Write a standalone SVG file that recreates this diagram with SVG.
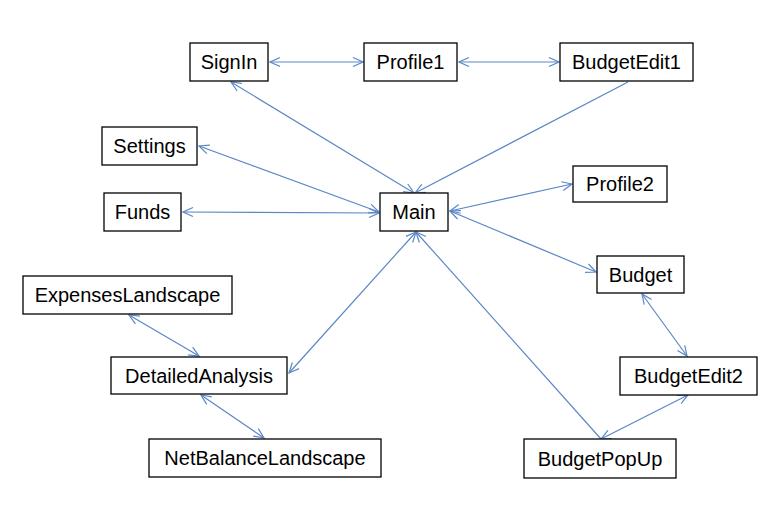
<svg xmlns="http://www.w3.org/2000/svg" width="784" height="520" viewBox="0 0 784 520">
<style>
.box{fill:#fff;stroke:#000;stroke-width:1.3}
.lbl{font-family:"Liberation Sans",Arial,sans-serif;font-size:20px;fill:#000;text-anchor:middle;dominant-baseline:central}
.c{stroke:#5b87c5;stroke-width:1.2;fill:none}
</style>
<defs>
<marker id="a" viewBox="0 0 12 12" refX="11" refY="6" markerWidth="12" markerHeight="12" markerUnits="userSpaceOnUse" orient="auto-start-reverse">
<path d="M1,1.5 L11,6 L1,10.5" fill="none" stroke="#5b87c5" stroke-width="1.2"/>
</marker>
</defs>
<rect width="784" height="520" fill="#fff"/>
<g id="connectors">
<line class="c" x1="270" y1="62" x2="363" y2="62" marker-start="url(#a)" marker-end="url(#a)"/>
<line class="c" x1="459" y1="62" x2="559" y2="62" marker-start="url(#a)" marker-end="url(#a)"/>
<line class="c" x1="231" y1="82" x2="414" y2="193" marker-start="url(#a)" marker-end="url(#a)"/>
<line class="c" x1="628" y1="82" x2="415" y2="193" marker-end="url(#a)"/>
<line class="c" x1="199" y1="146" x2="379" y2="212" marker-start="url(#a)" marker-end="url(#a)"/>
<line class="c" x1="183" y1="212" x2="379" y2="213" marker-start="url(#a)" marker-end="url(#a)"/>
<line class="c" x1="450" y1="211" x2="572" y2="184" marker-start="url(#a)" marker-end="url(#a)"/>
<line class="c" x1="450" y1="211" x2="596" y2="272" marker-start="url(#a)" marker-end="url(#a)"/>
<line class="c" x1="642" y1="294" x2="687" y2="356" marker-start="url(#a)" marker-end="url(#a)"/>
<line class="c" x1="289" y1="373" x2="416" y2="232" marker-start="url(#a)" marker-end="url(#a)"/>
<line class="c" x1="129" y1="315" x2="199" y2="356" marker-start="url(#a)" marker-end="url(#a)"/>
<line class="c" x1="201" y1="395" x2="264" y2="438" marker-start="url(#a)" marker-end="url(#a)"/>
<line class="c" x1="601" y1="439" x2="416" y2="232" marker-end="url(#a)"/>
<line class="c" x1="601" y1="439" x2="688" y2="395" marker-start="url(#a)" marker-end="url(#a)"/>
</g>
<g id="SignIn"><rect class="box" x="190" y="43" width="78" height="38"/><text class="lbl" x="229" y="62">SignIn</text></g>
<g id="Profile1"><rect class="box" x="364" y="43" width="93" height="38"/><text class="lbl" x="410.5" y="62">Profile1</text></g>
<g id="BudgetEdit1"><rect class="box" x="560" y="43" width="133" height="38"/><text class="lbl" x="626.5" y="62">BudgetEdit1</text></g>
<g id="Settings"><rect class="box" x="102" y="127" width="95" height="38"/><text class="lbl" x="149.5" y="146">Settings</text></g>
<g id="Funds"><rect class="box" x="104" y="193" width="77" height="38"/><text class="lbl" x="142.5" y="212">Funds</text></g>
<g id="Main"><rect class="box" x="380" y="193" width="68" height="38"/><text class="lbl" x="414" y="212">Main</text></g>
<g id="Profile2"><rect class="box" x="573" y="166" width="94" height="36"/><text class="lbl" x="620" y="184">Profile2</text></g>
<g id="Budget"><rect class="box" x="597" y="256" width="87" height="37"/><text class="lbl" x="640.5" y="274.5">Budget</text></g>
<g id="ExpensesLandscape"><rect class="box" x="23" y="276" width="209" height="38"/><text class="lbl" x="127.5" y="295">ExpensesLandscape</text></g>
<g id="DetailedAnalysis"><rect class="box" x="111" y="357" width="176" height="37"/><text class="lbl" x="199" y="375.5">DetailedAnalysis</text></g>
<g id="NetBalanceLandscape"><rect class="box" x="149" y="439" width="232" height="38"/><text class="lbl" x="265" y="458">NetBalanceLandscape</text></g>
<g id="BudgetEdit2"><rect class="box" x="620" y="357" width="137" height="38"/><text class="lbl" x="688.5" y="376">BudgetEdit2</text></g>
<g id="BudgetPopUp"><rect class="box" x="524" y="439" width="152" height="39"/><text class="lbl" x="600" y="458.5">BudgetPopUp</text></g>
</svg>
